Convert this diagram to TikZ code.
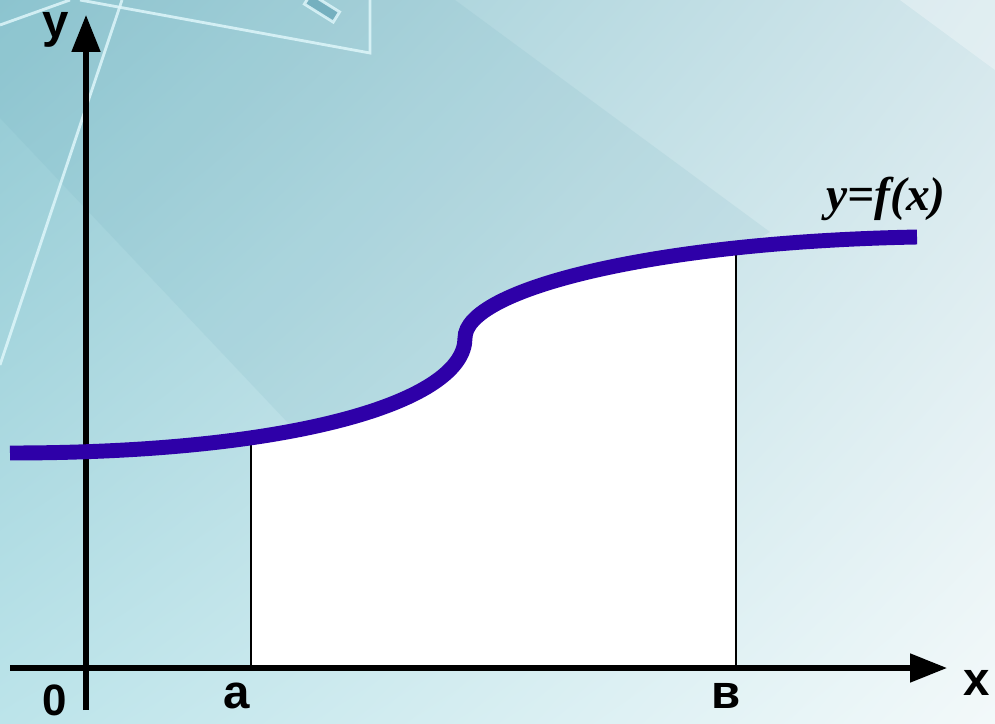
\documentclass[tikz,border=0pt]{standalone}
\usepackage{fontspec}
\setmainfont{Liberation Serif}
\newfontfamily\axisfont{Liberation Sans}
\usepackage{tikz}
\usetikzlibrary{arrows.meta,positioning,shadings}
\definecolor{curveblue}{RGB}{46,0,168}
\definecolor{bgdark}{RGB}{110,172,188}
\definecolor{glass}{RGB}{222,246,250}
\definecolor{bgul}{RGB}{145,200,210}
\definecolor{bgur}{RGB}{212,231,236}
\definecolor{bgll}{RGB}{188,228,234}
\definecolor{bglr}{RGB}{243,249,250}
\newcommand{\graphpath}{(10,453) .. controls (300,453) and (465,400) .. (465,338)
  .. controls (465,290) and (650,242) .. (917,237)}

\begin{document}
\begin{tikzpicture}[x=0.02cm,y=-0.02cm,
    axis/.style={line width=2.9pt,-{Triangle[length=0.74cm,width=0.56cm]}},
    bound/.style={line width=0.8pt},
    axislabel/.style={font=\axisfont\bfseries\fontsize{27}{30}\selectfont,anchor=base,inner sep=0pt},
    glassline/.style={draw=glass,line width=1.6pt,opacity=0.85}]
    \useasboundingbox (0,0) rectangle (995,724);
    \shade[upper left=bgul,upper right=bgur,lower left=bgll,lower right=bglr] (0,0) rectangle (995,724);
    \fill[bgdark,opacity=0.13] (0,0) -- (0,118) -- (340,478) -- (770,232) -- (455,0) -- cycle;
    \fill[white,opacity=0.3] (900,0) -- (995,0) -- (995,70) -- cycle;
    \draw[glassline] (0,25) -- (70,0);
    \draw[glassline] (80,0) -- (370,53) -- (370,0);
    \draw[glassline] (122,0) -- (0,365);
    \draw[glassline,fill=bgdark,rotate around={-32:(322,8)}] (305,2) rectangle (339,14);

    \coordinate (xstart) at (10,668);
    \coordinate (xend) at (947,668);
    \coordinate (ystart) at (86,710);
    \coordinate (yend) at (86,15);
    \coordinate (abot) at (251,668);
    \coordinate (atop) at (251,440);
    \coordinate (bbot) at (736,668);
    \coordinate (btop) at (736,248);

    \begin{scope}
        \clip (abot) rectangle (736,0);
        \fill[white] \graphpath -- (917,668) -- (10,668) -- cycle;
    \end{scope}

    \node[axislabel] (ylabel) at (56,37) {y};
    \node[axislabel] (xlabel) at (977,695) {x};
    \node[axislabel,font=\axisfont\bfseries\fontsize{25}{28}\selectfont] (zerolabel) at (55,715) {0};
    \node[axislabel] (alabel) at (237,708) {a};
    \node[axislabel] (blabel) at (726,708) {в};
    \node[font=\bfseries\itshape\fontsize{27}{30}\selectfont,anchor=base,inner sep=0pt] (flabel) at (886,210) {y=f(x)};

    \draw[bound] (abot) -- (atop);
    \draw[bound] (bbot) -- (btop);
    \draw[axis] (xstart) -- (xend);
    \draw[axis] (ystart) -- (yend);
    \draw[curveblue,line width=8.5pt] \graphpath;
\end{tikzpicture}
\end{document}
